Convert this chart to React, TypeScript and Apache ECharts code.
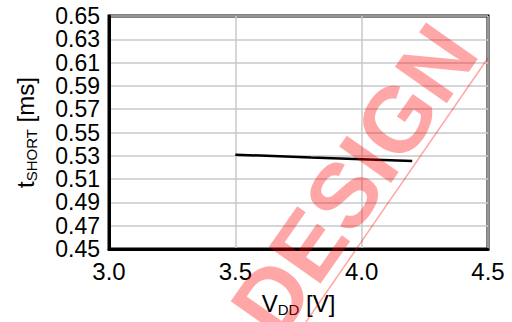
import React, { useEffect, useRef } from "react";
import * as echarts from "echarts";

const vdd = [3.5, 3.8, 4.2];
const tShort = [0.531, 0.5285, 0.5255];
const X_MIN = 3.0;
const X_MAX = 4.5;
const X_STEP = 0.5;
const Y_MIN = 0.45;
const Y_MAX = 0.65;
const Y_STEP = 0.02;
const watermarkText = "DESIGN";

export default function App() {
  const ref = useRef<HTMLDivElement>(null);
  useEffect(() => {
    if (!ref.current) return;
    const chart = echarts.init(ref.current, undefined, { renderer: "svg" });
    const font = "'Liberation Sans', Arial, sans-serif";
    chart.setOption({
      animation: false,
      backgroundColor: "#fff",
      grid: {
        left: 109,
        top: 16,
        right: 24,
        bottom: 73,
        show: true,
        borderColor: "#000",
        borderWidth: 3,
      },
      xAxis: {
        type: "value",
        min: X_MIN,
        max: X_MAX,
        interval: X_STEP,
        name: "{m|V}{s|DD}{m| [V]}",
        nameLocation: "middle",
        nameGap: 40,
        nameTextStyle: {
          rich: {
            m: { fontFamily: font, fontSize: 24, color: "#000", lineHeight: 28 },
            s: { fontFamily: font, fontSize: 15, color: "#000", lineHeight: 15, verticalAlign: "bottom" },
          },
        },
        axisLine: { show: true, lineStyle: { color: "#000", width: 3 } },
        axisTick: { show: false },
        axisLabel: {
          fontFamily: font,
          fontSize: 24,
          color: "#000",
          margin: 10,
          showMinLabel: true,
          showMaxLabel: true,
          formatter: (v: number) => v.toFixed(1),
        },
        splitLine: { show: true, lineStyle: { color: "#c8c8c8", width: 1.5 } },
      },
      yAxis: {
        type: "value",
        min: 0,
        max: Y_MAX - Y_MIN,
        interval: Y_STEP,
        name: "{m|t}{s|SHORT}{m| [ms]}",
        nameLocation: "middle",
        nameRotate: 90,
        nameGap: 70,
        nameTextStyle: {
          rich: {
            m: { fontFamily: font, fontSize: 24, color: "#000", lineHeight: 28 },
            s: { fontFamily: font, fontSize: 15, color: "#000", lineHeight: 15, verticalAlign: "bottom" },
          },
        },
        axisLine: { show: true, lineStyle: { color: "#000", width: 3 } },
        axisTick: { show: false },
        axisLabel: {
          fontFamily: font,
          fontSize: 23,
          lineHeight: 20,
          color: "#000",
          margin: 9,
          formatter: (v: number) => (v + Y_MIN).toFixed(2),
        },
        splitLine: { show: true, lineStyle: { color: "#c8c8c8", width: 1.5 } },
      },
      series: [
        {
          type: "line",
          data: vdd.map((x, i) => [x, +(tShort[i] - Y_MIN).toFixed(6)]),
          showSymbol: false,
          lineStyle: { color: "#000", width: 2.5 },
          z: 3,
        },
      ],
      graphic: [
        {
          type: "text",
          x: 354,
          y: 180,
          rotation: (55 * Math.PI) / 180,
          z: 100,
          style: {
            text: watermarkText,
            fontFamily: font,
            fontWeight: "bold",
            fontSize: 92,
            fill: "rgba(255,0,0,0.35)",
            align: "center",
            verticalAlign: "middle",
          },
        },
        {
          type: "line",
          z: 100,
          shape: { x1: 306, y1: 322, x2: 488, y2: 58 },
          style: { stroke: "rgba(255,0,0,0.35)", lineWidth: 1.5 },
        },
      ],
    });
    return () => chart.dispose();
  }, []);
  return <div ref={ref} style={{ width: 512, height: 322, position: "absolute", left: 0, top: 0 }} />;
}
